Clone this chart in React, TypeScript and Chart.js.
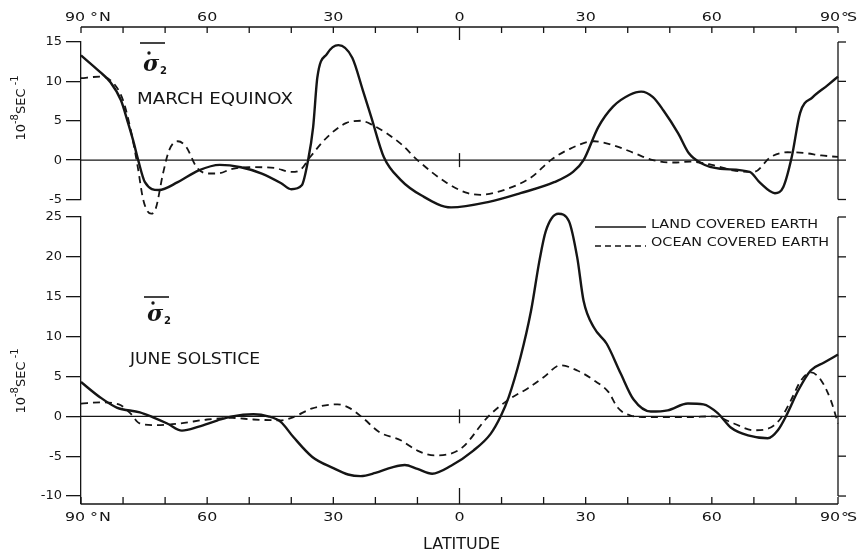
import React, { useEffect, useRef } from "react";
import { Chart, registerables } from "chart.js";

Chart.register(...registerables);

const W = 862;
const H = 559;
const FONT = '"DejaVu Sans", sans-serif';
const INK = "#151515";

// Latitude: north positive, south negative
const latTicks = [90, 80, 70, 60, 50, 40, 30, 20, 10, 0, -10, -20, -30, -40, -50, -60, -70, -80, -90];
const latLabelValues = [60, 30, 0, -30, -60];
const latLabelTexts = ["60", "30", "0", "30", "60"];

const marchTicks = [-5, 0, 5, 10, 15];
const juneTicks = [-10, -5, 0, 5, 10, 15, 20, 25];

// March equinox, land covered earth
const marchLandLat = [90, 85.5, 83, 80.5, 78.8, 77.6, 76.4, 74.8, 71.5, 67, 62, 57, 52, 47, 42.5, 40, 37.5, 36, 34.8, 33.8, 31.5, 28.8, 25.5, 23, 21, 18, 14, 9, 2, -7, -14.5, -22.5, -27, -29.5, -33, -36.5, -40.5, -43.2, -46, -48.5, -52, -54.5, -57.5, -62, -69, -71.5, -75, -77, -79, -81, -84, -87.5, -90];
const marchLandVal = [13.3, 11.2, 9.9, 7.6, 4.7, 2.5, 0, -2.8, -3.8, -2.8, -1.3, -0.6, -0.9, -1.7, -2.9, -3.7, -3.2, 0, 4.2, 10.5, 13.5, 14.6, 13.0, 8.9, 5.5, 0.4, -2.5, -4.5, -6.0, -5.3, -4.2, -2.8, -1.5, 0, 4.2, 6.8, 8.3, 8.7, 8.0, 6.3, 3.4, 0.9, -0.4, -1.1, -1.5, -2.9, -4.2, -3.4, 0.4, 6.0, 8.0, 9.5, 10.6];

// March equinox, ocean covered earth
const marchOceanLat = [90, 85.5, 82.5, 80, 78, 76.5, 75.3, 74.3, 73.3, 72.2, 70.5, 69, 67, 65, 62.5, 60, 57.5, 54, 49, 44, 40, 38, 35.5, 31.5, 27, 23.5, 20.5, 14, 10, 3, -2, -5, -10.5, -17, -21.7, -26.5, -32, -36.5, -41.5, -46, -51, -55, -60, -65, -70, -74, -78, -82, -86, -90];
const marchOceanVal = [10.4, 10.6, 9.9, 7.6, 3.4, -0.9, -4.8, -6.4, -6.8, -6.1, -1.7, 1.3, 2.4, 1.7, -0.9, -1.7, -1.7, -1.1, -0.9, -1.0, -1.5, -1.3, 0.4, 2.9, 4.7, 5.0, 4.4, 2.1, 0, -2.9, -4.2, -4.4, -3.8, -2.2, 0, 1.5, 2.4, 1.9, 0.9, 0, -0.3, -0.2, -0.6, -1.3, -1.5, 0.4, 1.0, 0.9, 0.6, 0.4];

// June solstice, land covered earth
const juneLandLat = [90, 85.5, 81.5, 76, 73, 69.5, 66, 62, 57.5, 54, 49, 45.5, 42.5, 39.5, 35, 30, 26.5, 23.5, 20, 16, 13, 10, 6.5, 2, -3.3, -7.4, -9.8, -11.7, -14.5, -17, -19, -20.5, -23.5, -26, -28, -29.5, -32, -35, -38.3, -41.4, -45.5, -49.5, -54.3, -58, -61.4, -64.5, -68.6, -73.3, -75.7, -78, -80.5, -83.5, -86.7, -90];
const juneLandVal = [4.3, 2.4, 1.1, 0.5, -0.1, -0.9, -1.8, -1.3, -0.5, 0, 0.25, 0, -0.7, -2.6, -5.1, -6.5, -7.3, -7.5, -7.1, -6.4, -6.1, -6.6, -7.2, -6.2, -4.3, -2.2, 0, 2.4, 7.4, 13.2, 19.5, 23.2, 25.4, 24.5, 19.9, 14.5, 11.1, 9.1, 5.4, 2.1, 0.6, 0.75, 1.6, 1.5, 0.4, -1.4, -2.4, -2.75, -1.75, 0.4, 3.2, 5.75, 6.75, 7.75];

// June solstice, ocean covered earth
const juneOceanLat = [90, 85.5, 81, 78.3, 76, 72, 66.5, 60, 54, 49, 42.5, 39.5, 35, 29, 26, 23, 19, 14, 10, 6, 3, -0.7, -6.7, -11.4, -16.2, -20, -24, -28, -32, -35.5, -37.6, -40.7, -44.8, -54.3, -60.5, -65.2, -70, -74, -76.4, -78.8, -81.2, -83.6, -86, -88.3, -90];
const juneOceanVal = [1.6, 1.75, 1.5, 0.4, -0.9, -1.1, -0.9, -0.4, -0.2, -0.4, -0.5, -0.1, 1.0, 1.5, 1.0, -0.2, -2.0, -3.0, -4.3, -4.9, -4.8, -3.9, -0.1, 2.0, 3.5, 4.9, 6.4, 5.75, 4.5, 3.0, 1.1, 0.1, -0.1, -0.1, 0, -0.9, -1.75, -1.4, -0.25, 2.0, 4.5, 5.5, 4.5, 2.0, -0.9];

const toPoints = (lats: number[], vals: number[]) => lats.map((x, i) => ({ x, y: vals[i] }));

function seg(ctx: CanvasRenderingContext2D, x1: number, y1: number, x2: number, y2: number, w = 1.3) {
  ctx.beginPath();
  ctx.lineWidth = w;
  ctx.moveTo(x1, y1);
  ctx.lineTo(x2, y2);
  ctx.stroke();
}

// Text stretched horizontally to a given width, vertically centred on y
function fitText(ctx: CanvasRenderingContext2D, text: string, x: number, y: number, width: number, size: number) {
  ctx.save();
  ctx.font = `${size}px ${FONT}`;
  const w = ctx.measureText(text).width;
  ctx.translate(x, y);
  ctx.scale(width / w, 1);
  ctx.textAlign = "left";
  ctx.textBaseline = "middle";
  ctx.fillText(text, 0, 0);
  ctx.restore();
}

// Wide-set axis label text on an alphabetic baseline
function wideText(ctx: CanvasRenderingContext2D, text: string, x: number, baseline: number, align: CanvasTextAlign) {
  ctx.save();
  ctx.font = `13px ${FONT}`;
  ctx.translate(x, baseline);
  ctx.scale(1.22, 1);
  ctx.textAlign = align;
  ctx.textBaseline = "alphabetic";
  ctx.fillText(text, 0, 0);
  ctx.restore();
}

function drawSigma(ctx: CanvasRenderingContext2D, x: number, barY: number, baseY: number) {
  ctx.save();
  seg(ctx, x - 3, barY, x + 22, barY, 1.6);
  ctx.font = 'bold italic 22px "DejaVu Serif", serif';
  ctx.textAlign = "left";
  ctx.textBaseline = "alphabetic";
  ctx.fillText("σ", x, baseY);
  ctx.beginPath();
  ctx.arc(x + 6, baseY - 18, 1.7, 0, Math.PI * 2);
  ctx.fill();
  ctx.font = `bold 10px ${FONT}`;
  ctx.fillText("2", x + 17, baseY + 3);
  ctx.restore();
}

// Rotated unit title 10^-8 SEC^-1, baseline at x, centred on cy
function drawUnit(ctx: CanvasRenderingContext2D, x: number, cy: number) {
  const pieces = [
    { t: "10", s: 13, dy: 0 },
    { t: "-8", s: 10, dy: -7 },
    { t: "SEC", s: 13, dy: 0 },
    { t: " -1", s: 10, dy: -7 },
  ];
  ctx.save();
  ctx.translate(x, cy);
  ctx.rotate(-Math.PI / 2);
  ctx.textAlign = "left";
  ctx.textBaseline = "alphabetic";
  let total = 0;
  for (const p of pieces) {
    ctx.font = `${p.s}px ${FONT}`;
    total += ctx.measureText(p.t).width;
  }
  let cx = -total / 2;
  for (const p of pieces) {
    ctx.font = `${p.s}px ${FONT}`;
    ctx.fillText(p.t, cx, p.dy);
    cx += ctx.measureText(p.t).width;
  }
  ctx.restore();
}

function drawLatAxis(chart: any, yLine: number, dir: number, baseline: number, shortLen: number, longLen: number) {
  const ctx: CanvasRenderingContext2D = chart.ctx;
  const xs = chart.scales.x;
  const left = xs.getPixelForValue(90);
  const right = xs.getPixelForValue(-90);
  seg(ctx, left, yLine, right, yLine);
  for (const lat of latTicks) {
    const px = xs.getPixelForValue(lat);
    seg(ctx, px, yLine, px, yLine + dir * (lat === 0 ? longLen : shortLen));
  }
  latLabelValues.forEach((lat, i) => wideText(ctx, latLabelTexts[i], xs.getPixelForValue(lat), baseline, "center"));
  wideText(ctx, "90", left - 16, baseline, "left");
  wideText(ctx, "°", left + 9, baseline, "left");
  wideText(ctx, "N", left + 18, baseline, "left");
  wideText(ctx, "90", right - 18, baseline, "left");
  wideText(ctx, "°", right + 3, baseline, "left");
  wideText(ctx, "S", right + 9, baseline, "left");
}

function drawPanelFrame(chart: any, ticks: number[]) {
  const ctx: CanvasRenderingContext2D = chart.ctx;
  const ys = chart.scales.y;
  const xs = chart.scales.x;
  const { left, right } = chart.chartArea;
  const y0 = ys.getPixelForValue(0);
  seg(ctx, left, y0, right, y0, 1.2);
  const x0 = xs.getPixelForValue(0);
  seg(ctx, x0, y0 - 7, x0, y0 + 7, 1.3);
  // right-hand axis with outward ticks
  const yTop = ys.getPixelForValue(ticks[ticks.length - 1]);
  const yBot = ys.getPixelForValue(ticks[0]);
  seg(ctx, right, yTop, right, yBot);
  ticks.forEach((v) => {
    const py = ys.getPixelForValue(v);
    seg(ctx, right, py, right + 8, py);
  });
}

const marchDecor = {
  id: "marchDecor",
  afterDraw(chart: any) {
    const ctx: CanvasRenderingContext2D = chart.ctx;
    ctx.save();
    ctx.strokeStyle = INK;
    ctx.fillStyle = INK;
    drawPanelFrame(chart, marchTicks);
    drawLatAxis(chart, chart.chartArea.top - 15, 1, 21, 6, 13);
    drawSigma(ctx, 143, 43, 71);
    fitText(ctx, "MARCH EQUINOX", 137, 100, 156, 15);
    drawUnit(ctx, 25, 108);
    ctx.restore();
  },
};

const juneDecor = {
  id: "juneDecor",
  afterDraw(chart: any) {
    const ctx: CanvasRenderingContext2D = chart.ctx;
    ctx.save();
    ctx.strokeStyle = INK;
    ctx.fillStyle = INK;
    drawPanelFrame(chart, juneTicks);
    drawLatAxis(chart, chart.chartArea.bottom, -1, 521, 7, 16);
    drawSigma(ctx, 147, 297, 321);
    fitText(ctx, "JUNE SOLSTICE", 130, 360, 130, 15);
    drawUnit(ctx, 25, 381);
    fitText(ctx, "LATITUDE", 423, 545, 77, 16);
    // legend
    seg(ctx, 595, 227, 646, 227, 1.5);
    ctx.save();
    ctx.setLineDash([6, 4]);
    seg(ctx, 595, 246, 646, 246, 1.5);
    ctx.restore();
    fitText(ctx, "LAND COVERED EARTH", 651, 225, 167, 13);
    fitText(ctx, "OCEAN COVERED EARTH", 651, 243, 178, 13);
    ctx.restore();
  },
};

function panelConfig(landLat: number[], landVal: number[], oceanLat: number[], oceanVal: number[], ticks: number[], min: number, max: number, top: number, bottom: number, decor: any) {
  return {
    type: "line" as const,
    data: {
      datasets: [
        {
          label: "LAND COVERED EARTH",
          data: toPoints(landLat, landVal),
          borderColor: INK,
          borderWidth: 2.4,
          pointRadius: 0,
          fill: false,
          cubicInterpolationMode: "monotone" as const,
          clip: false as const,
        },
        {
          label: "OCEAN COVERED EARTH",
          data: toPoints(oceanLat, oceanVal),
          borderColor: INK,
          borderWidth: 1.8,
          borderDash: [7, 5],
          pointRadius: 0,
          fill: false,
          cubicInterpolationMode: "monotone" as const,
          clip: false as const,
        },
      ],
    },
    options: {
      responsive: false,
      animation: false as const,
      events: [],
      layout: { padding: { left: 0, right: W - 838, top, bottom: H - bottom } },
      plugins: { legend: { display: false }, tooltip: { enabled: false } },
      scales: {
        x: { type: "linear" as const, display: false, min: -90, max: 90, reverse: true },
        y: {
          type: "linear" as const,
          min,
          max,
          afterBuildTicks: (s: any) => {
            s.ticks = ticks.map((v) => ({ value: v }));
          },
          afterFit: (s: any) => {
            s.width = 81;
          },
          ticks: { color: INK, font: { family: FONT, size: 13 }, padding: 4 },
          grid: { drawOnChartArea: false, drawTicks: true, tickLength: 15, color: INK, lineWidth: 1.3 },
          border: { display: true, color: INK, width: 1.3 },
        },
      },
    },
    plugins: [decor],
  };
}

export default function App() {
  const topRef = useRef<HTMLCanvasElement>(null);
  const botRef = useRef<HTMLCanvasElement>(null);

  useEffect(() => {
    const march = new Chart(
      topRef.current as HTMLCanvasElement,
      panelConfig(marchLandLat, marchLandVal, marchOceanLat, marchOceanVal, marchTicks, -5, 15, 42, 199.5, marchDecor) as any
    );
    const june = new Chart(
      botRef.current as HTMLCanvasElement,
      panelConfig(juneLandLat, juneLandVal, juneOceanLat, juneOceanVal, juneTicks, -11, 25, 217, 504, juneDecor) as any
    );
    return () => {
      march.destroy();
      june.destroy();
    };
  }, []);

  const canvasStyle: React.CSSProperties = { position: "absolute", left: 0, top: 0 };
  return (
    <div style={{ position: "absolute", left: 0, top: 0, width: W, height: H, background: "#fff" }}>
      <canvas ref={topRef} width={W} height={H} style={canvasStyle} />
      <canvas ref={botRef} width={W} height={H} style={canvasStyle} />
    </div>
  );
}
